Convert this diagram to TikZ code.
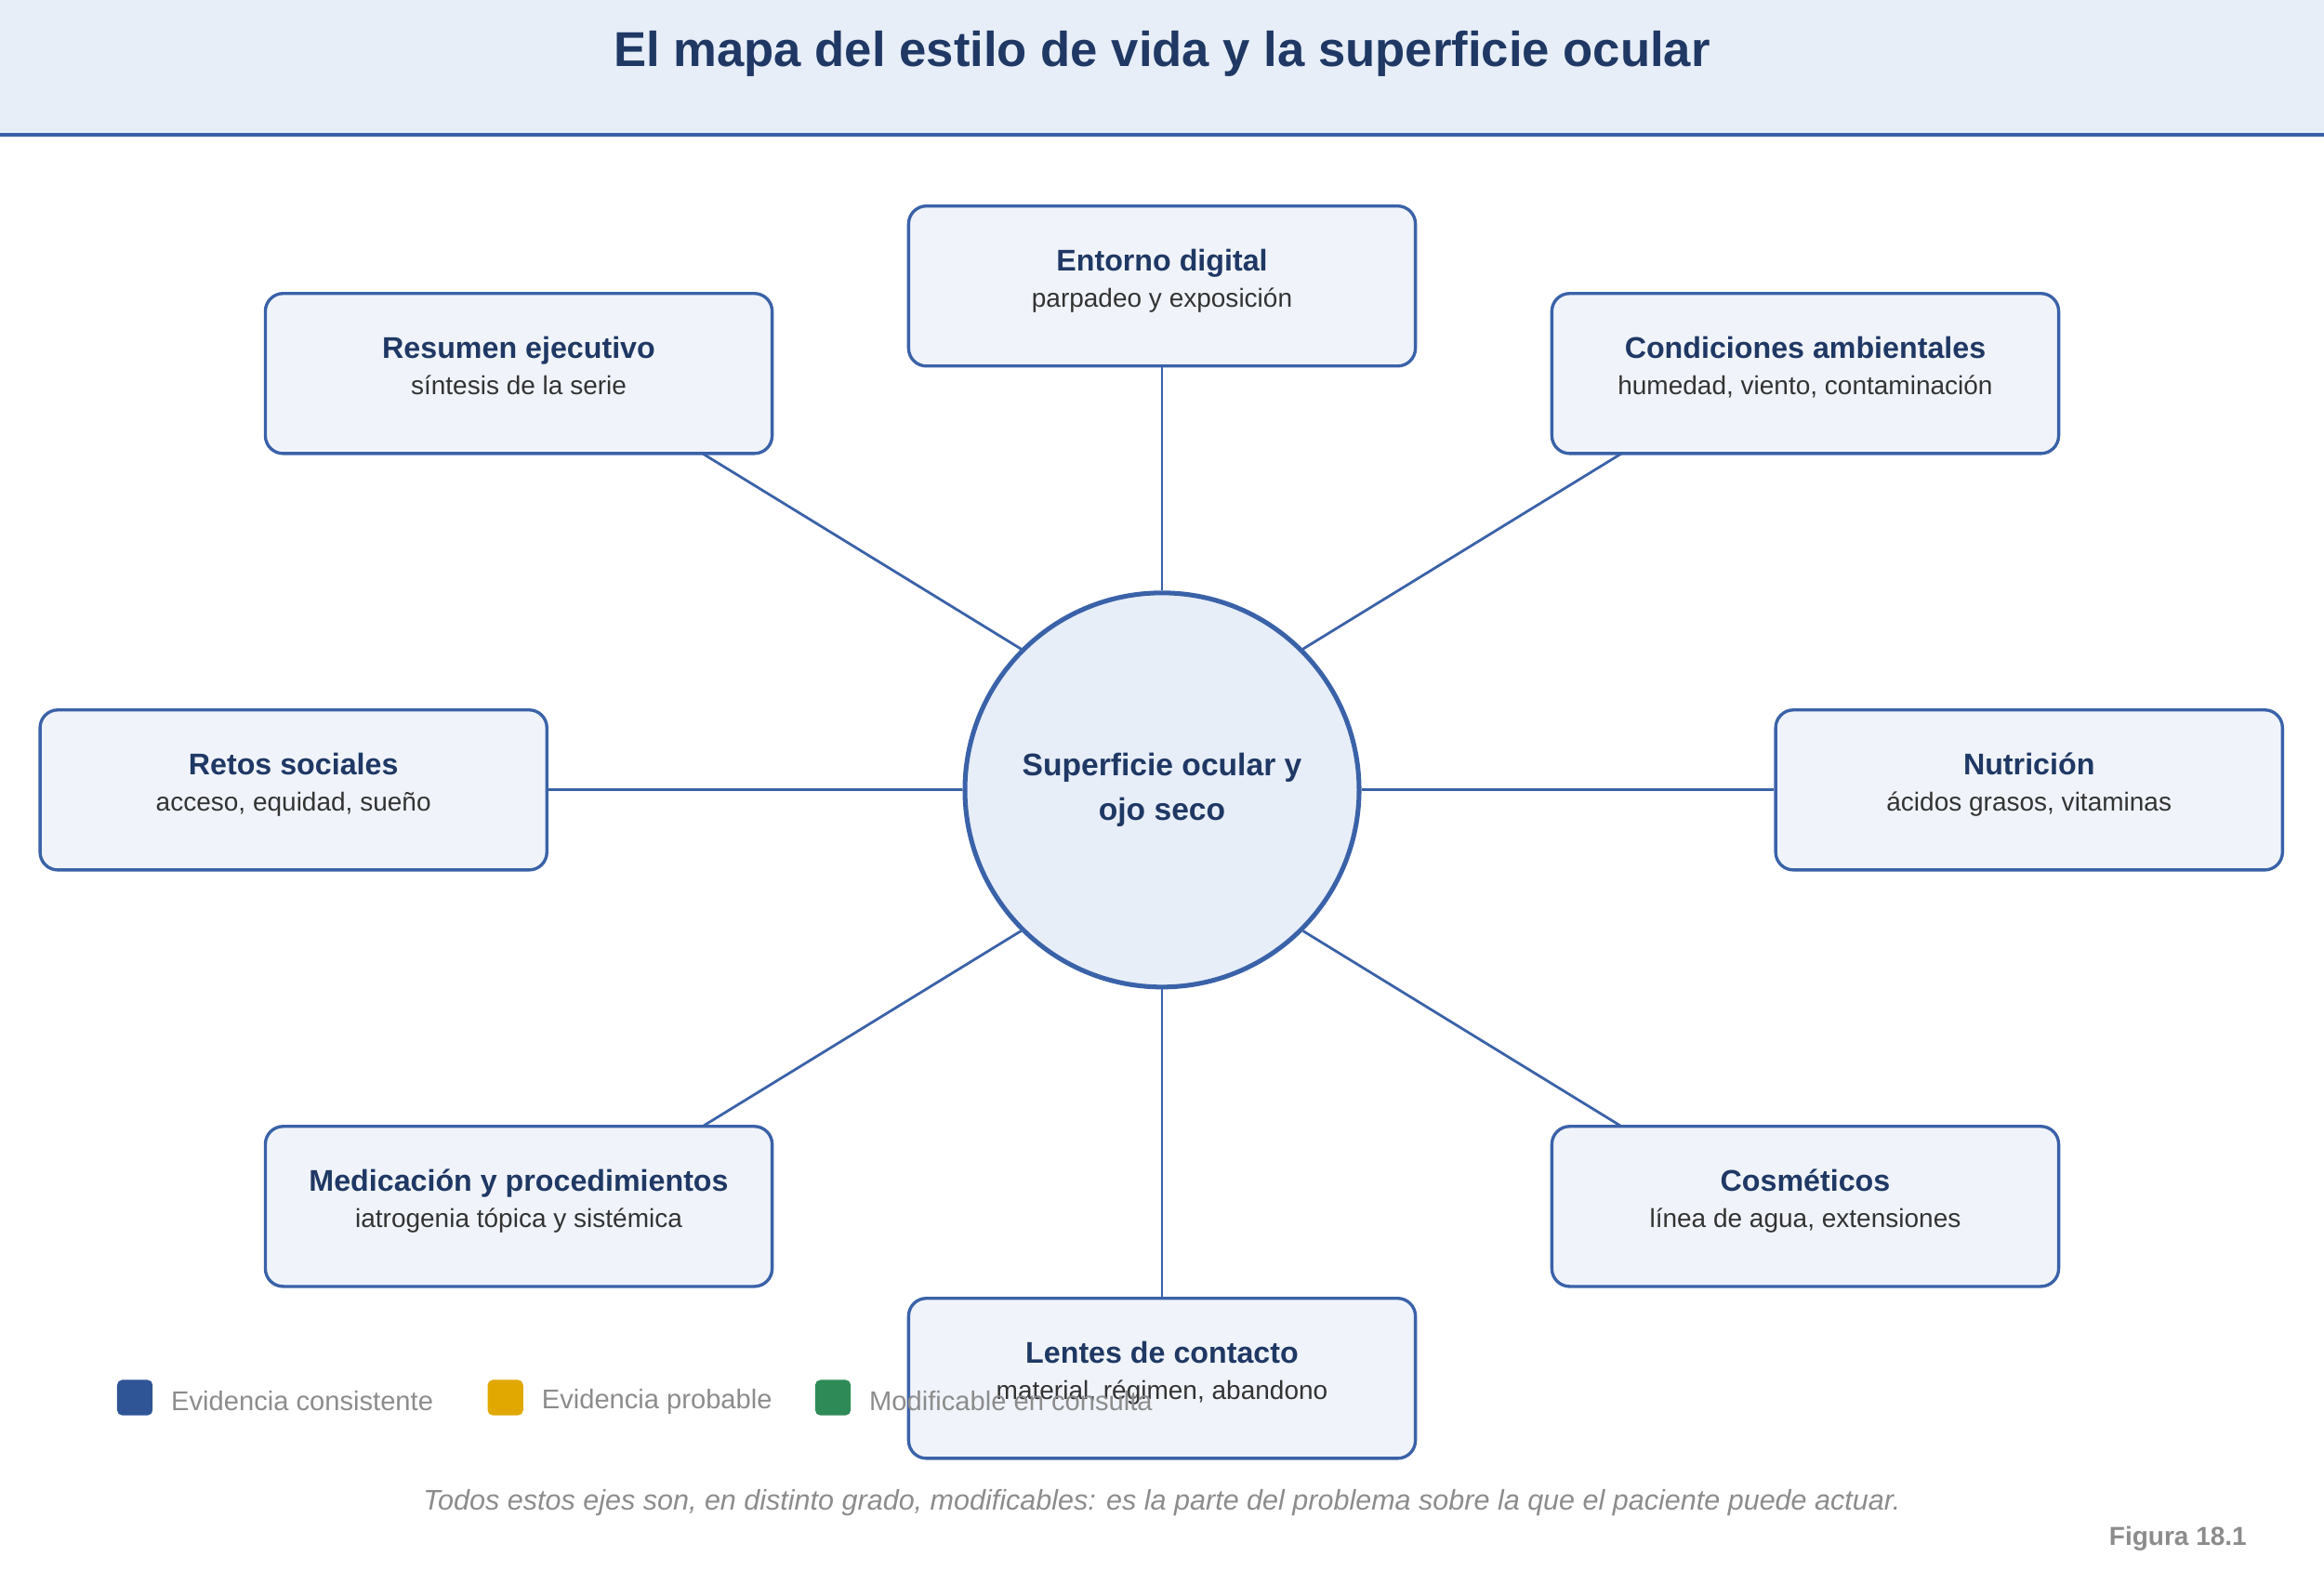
\documentclass[tikz,border=0pt]{standalone}
\usepackage{fontspec}
\setmainfont{Liberation Sans}
\usetikzlibrary{positioning}
\definecolor{navy}{HTML}{1F3864}
\definecolor{edge}{HTML}{3A62A8}
\definecolor{boxfill}{HTML}{F0F4FA}
\definecolor{band}{HTML}{E7EEF8}
\definecolor{txt}{HTML}{333333}
\definecolor{legblue}{HTML}{2F5597}
\definecolor{legyellow}{HTML}{E0A800}
\definecolor{leggreen}{HTML}{2E8B57}
\tikzset{
  eje/.style={draw=edge, line width=1.2pt, fill=boxfill, rounded corners=0.24cm,
    minimum width=6.84cm, minimum height=2.16cm, align=center, inner sep=2pt},
  nucleo/.style={circle, draw=edge, line width=1.8pt, fill=band, minimum size=5.32cm,
    align=center, font=\bfseries\fontsize{12}{17}\selectfont, text=navy},
  enlace/.style={draw=edge, line width=1pt},
  legcuadro/.style={fill=#1, rounded corners=2pt, minimum size=0.48cm, inner sep=0pt},
  legtexto/.style={text=gray!90, font=\fontsize{10.4}{12}\selectfont, anchor=west}
}
\newcommand{\ejetexto}[2]{{\bfseries\fontsize{11.5}{14}\selectfont\color{navy}#1}\\[2pt]{\fontsize{10}{12}\selectfont\color{txt}#2}\\[-6pt]\mbox{}}
\begin{document}
\begin{tikzpicture}[x=0.02cm, y=-0.02cm]
\useasboundingbox (0,0) rectangle (1568,1059);
% cabecera
\fill[band] (0,0) rectangle (1568,91);
\draw[edge, line width=1.6pt] (0,91) -- (1568,91);
\node[font=\bfseries\fontsize{18.8}{22}\selectfont, text=navy] (titulo) at (784,36) {El mapa del estilo de vida y la superficie ocular};

% centro
\node[nucleo] (centro) at (784,533) {Superficie ocular y\\ojo seco};

% ejes
\node[eje] (digital) at (784,193) {\ejetexto{Entorno digital}{parpadeo y exposición}};
\node[eje] (resumen) at (350,252) {\ejetexto{Resumen ejecutivo}{síntesis de la serie}};
\node[eje] (ambiente) at (1218,252) {\ejetexto{Condiciones ambientales}{humedad, viento, contaminación}};
\node[eje] (retos) at (198,533) {\ejetexto{Retos sociales}{acceso, equidad, sueño}};
\node[eje] (nutricion) at (1369,533) {\ejetexto{Nutrición}{ácidos grasos, vitaminas}};
\node[eje] (medicacion) at (350,814) {\ejetexto{Medicación y procedimientos}{iatrogenia tópica y sistémica}};
\node[eje] (cosmeticos) at (1218,814) {\ejetexto{Cosméticos}{línea de agua, extensiones}};
\node[eje] (lentes) at (784,930) {\ejetexto{Lentes de contacto}{material, régimen, abandono}};

% puntos de llegada en las diagonales
\coordinate (pResumen) at (474,306);
\coordinate (pAmbiente) at (1094,306);
\coordinate (pMedicacion) at (474,760);
\coordinate (pCosmeticos) at (1094,760);

% conexiones
\foreach \n in {digital,retos,nutricion,lentes}
  \draw[enlace] (centro) -- (\n);
\foreach \a/\n in {135/pResumen,45/pAmbiente,225/pMedicacion,315/pCosmeticos}
  \draw[enlace] (centro.\a) -- (\n);

% leyenda
\node[legcuadro=legblue] (lega) at (91,943) {};
\node[legtexto, right=0.12cm of lega, yshift=-0.05cm] (legat) {Evidencia consistente};
\node[legcuadro=legyellow] (legb) at (341,943) {};
\node[legtexto, right=0.12cm of legb, yshift=-0.05cm] (legbt) {Evidencia probable};
\node[legcuadro=leggreen] (legc) at (562,943) {};
\node[legtexto, right=0.12cm of legc, yshift=-0.05cm] (legct) {Modificable en consulta};

% pie
\node[font=\itshape\fontsize{10.9}{12}\selectfont, text=gray!90] (pie) at (784,1014) {Todos estos ejes son, en distinto grado, modificables: es la parte del problema sobre la que el paciente puede actuar.};
\node[font=\bfseries\fontsize{10}{12}\selectfont, text=gray!90, anchor=east] (figura) at (1522,1038) {Figura 18.1};
\end{tikzpicture}
\end{document}
